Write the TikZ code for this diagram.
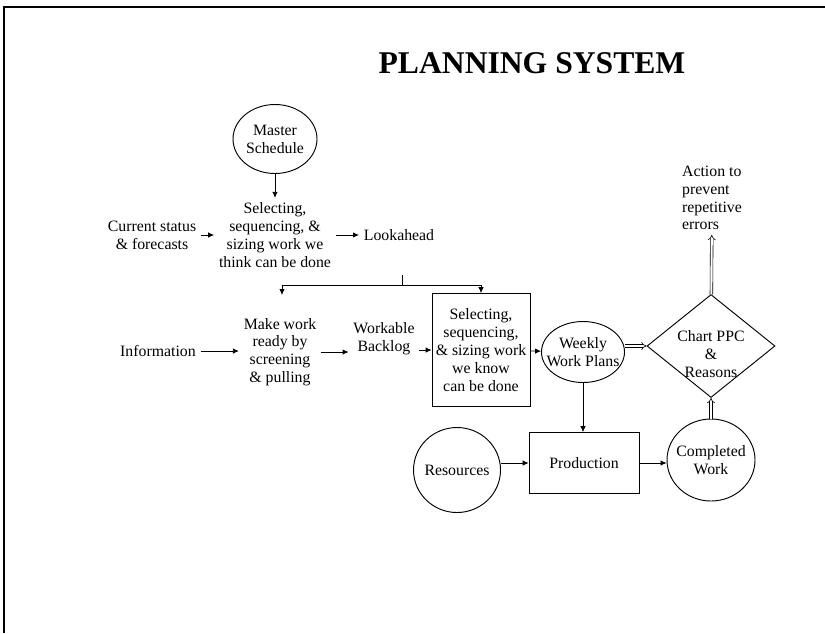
\documentclass[tikz,border=0pt]{standalone}
\usepackage{fontspec}
\setmainfont{Liberation Serif}
\usepackage{tikz}
\usetikzlibrary{shapes.geometric,arrows.meta}
\tikzset{>={Latex[length=5pt,width=4.5pt]}, every edge/.style={draw,
		->,line width=0.6pt},twin/.style={double,double distance=1.8pt,line width=0.5pt,-{Implies[length=4pt]}}}
\tikzstyle{words}=[align=center,inner sep=4pt,font=\fontsize{13.5}{15.2}\selectfont]
\tikzstyle{oval}=[ellipse,draw=black,line width=0.8pt,inner sep=0pt]
\tikzstyle{block}=[rectangle,draw=black,line width=0.7pt,inner sep=0pt]
\tikzstyle{decide}=[diamond,draw=black,line width=0.8pt,inner sep=0pt]

\begin{document}
\begin{tikzpicture}[x=0.03cm,y=-0.03cm]
	\useasboundingbox (0,0) rectangle (825,633);
	\draw[line width=0.9pt] (4,633) -- (4,7) -- (825,7);
	\node at (532,63) (title) {\fontsize{27}{30}\selectfont\bfseries PLANNING SYSTEM};
	\node at (275,139) [oval,minimum width=2.52cm,minimum height=2.07cm,label={[words]center:Master\\Schedule}] (master) {};
	\node at (275,235) [words] (selthink) {Selecting,\\sequencing, \&\\sizing work we\\think can be done};
	\node at (152,235) [words] (current) {Current status\\\& forecasts};
	\node at (399,235) [words] (lookahead) {Lookahead};
	\coordinate (drop) at (402,275);
	\coordinate (split) at (402,285);
	\coordinate (mrtop) at (282,295);
	\node at (158,351) [words] (info) {Information};
	\node at (280,352) [words] (makeready) {Make work\\ready by\\screening\\\& pulling};
	\node at (384,339) [words] (backlog) {Workable\\Backlog};
	\node at (481,350) [block,minimum width=2.94cm,minimum height=3.39cm] (selknow) {};
	\node at (selknow) [words] (knowtext) {Selecting,\\sequencing,\\\& sizing work\\we know\\can be done};
	\node at (583,352) [oval,minimum width=2.49cm,minimum height=1.83cm,label={[words]center:Weekly\\Work Plans}] (weekly) {};
	\node at (711,346) [decide,minimum width=3.84cm,minimum height=3.09cm,label={[words,yshift=-0.24cm]center:Chart PPC\\\&\\Reasons}] (chart) {};
	\node at (712,198) [words,align=left] (action) {Action to\\prevent\\repetitive\\errors};
	\node at (584,463) [block,minimum width=3.3cm,minimum height=1.83cm,words] (production) {Production};
	\node at (457,470) [oval,minimum width=2.61cm,minimum height=2.55cm,label={[words]center:Resources}] (resources) {};
	\node at (711,460) [oval,minimum width=2.64cm,minimum height=2.46cm,label={[words]center:Completed\\Work}] (completed) {};
	\draw (master) edge (selthink);
	\draw (current) edge (selthink);
	\draw (selthink) edge (lookahead);
	\draw[line width=0.6pt] (drop) -- (split);
	\draw (split) edge[to path={-| (\tikztotarget)}] (mrtop);
	\draw (split) edge[to path={-| (\tikztotarget)}] (selknow.north);
	\draw (info) edge (info -| makeready.west);
	\draw (makeready) edge (makeready -| backlog.west);
	\draw (backlog.east |- selknow) edge (selknow);
	\draw (selknow) edge (weekly);
	\draw (chart.west -| weekly.east) edge[twin] (chart.west);
	\draw (weekly.south) edge (weekly.south |- production.north);
	\draw (resources.east |- production) edge (production);
	\draw (production) edge (production -| completed.west);
	\draw (completed) edge[twin] (chart);
	\draw (chart) edge[twin] (action);
\end{tikzpicture}
\end{document}
